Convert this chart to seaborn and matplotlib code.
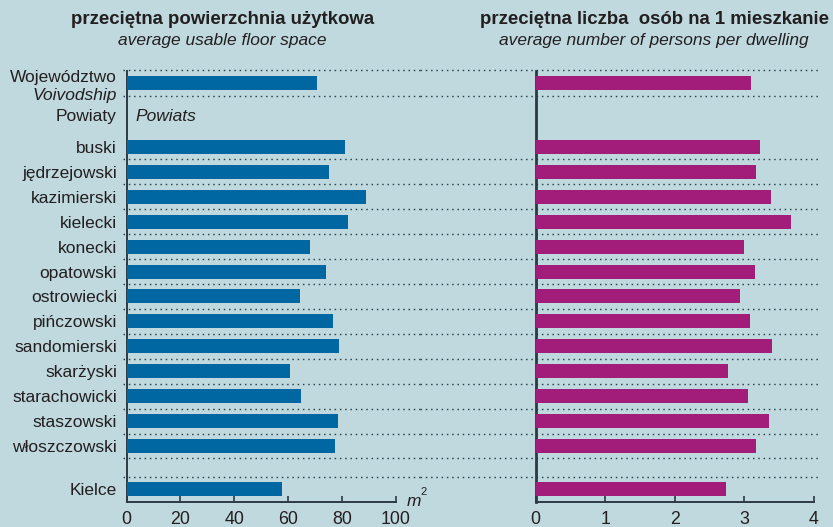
import numpy as np
import pandas as pd
import matplotlib
matplotlib.use("Agg")
import matplotlib.pyplot as plt
import seaborn as sns

# ---------------- data ----------------
powiats = ["buski", "jędrzejowski", "kazimierski", "kielecki", "konecki",
           "opatowski", "ostrowiecki", "pińczowski", "sandomierski",
           "skarżyski", "starachowicki", "staszowski", "włoszczowski"]
floor_space = [81.2, 75.3, 89.0, 82.3, 68.2, 74.2, 64.5, 76.8, 79.0,
               60.8, 64.9, 78.6, 77.5]
persons = [3.22, 3.17, 3.38, 3.67, 2.99, 3.15, 2.94, 3.08, 3.40,
           2.76, 3.05, 3.35, 3.17]
voiv_floor = 70.7
voiv_persons = 3.10
city_label = "Kielce"
city_floor = 57.7
city_persons = 2.74

left_ticks = [0, 20, 40, 60, 80, 100]
right_ticks = [0, 1, 2, 3, 4]

title_left = "przeciętna powierzchnia użytkowa"
sub_left = "average usable floor space"
title_right = "przeciętna liczba  osób na 1 mieszkanie"
sub_right = "average number of persons per dwelling"

# ---------------- style ----------------
BG = "#bfd9de"
BLUE = "#0067a3"
MAGENTA = "#a21c79"
TXT = "#231f20"
AXC = "#2b3a44"
DOT = "#2a4250"

sns.set_theme(style="white")
plt.rcParams["font.family"] = ["Liberation Sans", "DejaVu Sans"]
plt.rcParams["text.color"] = TXT

# row layout (row pitch = 1)
n = len(powiats)
pos_powiats = list(np.arange(n, dtype=float))
pos_voiv = -2.56
pos_powiaty_hdr = -1.2
pos_city = (n - 1) + 1.72
ytop = -3.04
ybot = pos_city + 0.52

ypos = [pos_voiv] + pos_powiats + [pos_city]
df = pd.DataFrame({
    "pos": ypos,
    "floor": [voiv_floor] + floor_space + [city_floor],
    "persons": [voiv_persons] + persons + [city_persons],
})

W, H = 833, 527
fig = plt.figure(figsize=(W / 100, H / 100), dpi=100, facecolor=BG)
ax_h = (502 - 71) / H
axL = fig.add_axes([126.5 / W, 1 - 502 / H, 269.2 / W, ax_h])
axR = fig.add_axes([535.7 / W, 1 - 502 / H, 278.3 / W, ax_h])

sns.barplot(data=df, x="floor", y="pos", orient="y", native_scale=True,
            color=BLUE, saturation=1, width=0.56, errorbar=None,
            linewidth=0, edgecolor=BLUE, ax=axL)
sns.barplot(data=df, x="persons", y="pos", orient="y", native_scale=True,
            color=MAGENTA, saturation=1, width=0.56, errorbar=None,
            linewidth=0, edgecolor=MAGENTA, ax=axR)

# dotted separators
sep = [pos_voiv - 0.52, pos_voiv + 0.52] + [i + 0.5 for i in range(n - 1)] + \
      [(n - 1) + 0.48, pos_city - 0.48]

for ax, xmin, xmax, lim, ticks in [
        (axL, -1.2, 109.0, (0, 100), left_ticks),
        (axR, -1.66, 4.06, (0, 4), right_ticks)]:
    ax.set_facecolor(BG)
    for y in sep:
        ax.plot([xmin, xmax], [y, y], color=DOT, lw=1.0,
                linestyle=(0, (1.1, 2.7)), dash_capstyle="butt",
                clip_on=False, zorder=1)
    ax.set_xlim(*lim)
    ax.set_ylim(ybot, ytop)
    ax.set_xticks(ticks)
    ax.set_xticklabels([str(t) for t in ticks], fontsize=12.8, color=TXT)
    ax.tick_params(axis="x", direction="in", length=4, width=1.2,
                   color=AXC, pad=6.5, bottom=True)
    ax.set_xlabel("")
    ax.set_ylabel("")
    for s in ["top", "right"]:
        ax.spines[s].set_visible(False)
    for s in ["left", "bottom"]:
        ax.spines[s].set_color(AXC)
        ax.spines[s].set_linewidth(1.4)
    for p in ax.patches:
        p.set_zorder(3)

axR.set_yticks([])
axL.set_yticks(pos_powiats + [pos_city])
axL.set_yticklabels(powiats + [city_label], fontsize=12.5, color=TXT)
axL.tick_params(axis="y", left=False, length=0, pad=6.8)
axR.spines["left"].set_linewidth(2.0)

# special row labels
trans = axL.get_yaxis_transform()
axL.text(-0.037, pos_voiv - 0.22, "Województwo", transform=trans,
         ha="right", va="center", fontsize=12.5, color=TXT)
axL.text(-0.037, pos_voiv + 0.52, "Voivodship", transform=trans,
         ha="right", va="center", fontsize=12.5, style="italic", color=TXT)
axL.text(-0.037, pos_powiaty_hdr, "Powiaty", transform=trans,
         ha="right", va="center", fontsize=12.5, color=TXT)
axL.text(0.032, pos_powiaty_hdr, "Powiats", transform=trans,
         ha="left", va="center", fontsize=12.5, style="italic", color=TXT)

# unit label
axL.text(104.0, ybot - 0.02, "m", ha="left", va="center", fontsize=12.5,
         style="italic", color=TXT, clip_on=False)
axL.text(109.2, ybot - 0.42, "2", ha="left", va="center", fontsize=8,
         color=TXT, clip_on=False)

# titles
fig.text(222.5 / W, 1 - 20 / H, title_left, ha="center", va="center",
         fontsize=13.4, fontweight="bold", color=TXT)
fig.text(222.5 / W, 1 - 40 / H, sub_left, ha="center", va="center",
         fontsize=12.5, style="italic", color=TXT)
fig.text(654 / W, 1 - 20 / H, title_right, ha="center", va="center",
         fontsize=13.4, fontweight="bold", color=TXT)
fig.text(654 / W, 1 - 40 / H, sub_right, ha="center", va="center",
         fontsize=12.5, style="italic", color=TXT)

fig.savefig("out.png", dpi=100, facecolor=BG)
